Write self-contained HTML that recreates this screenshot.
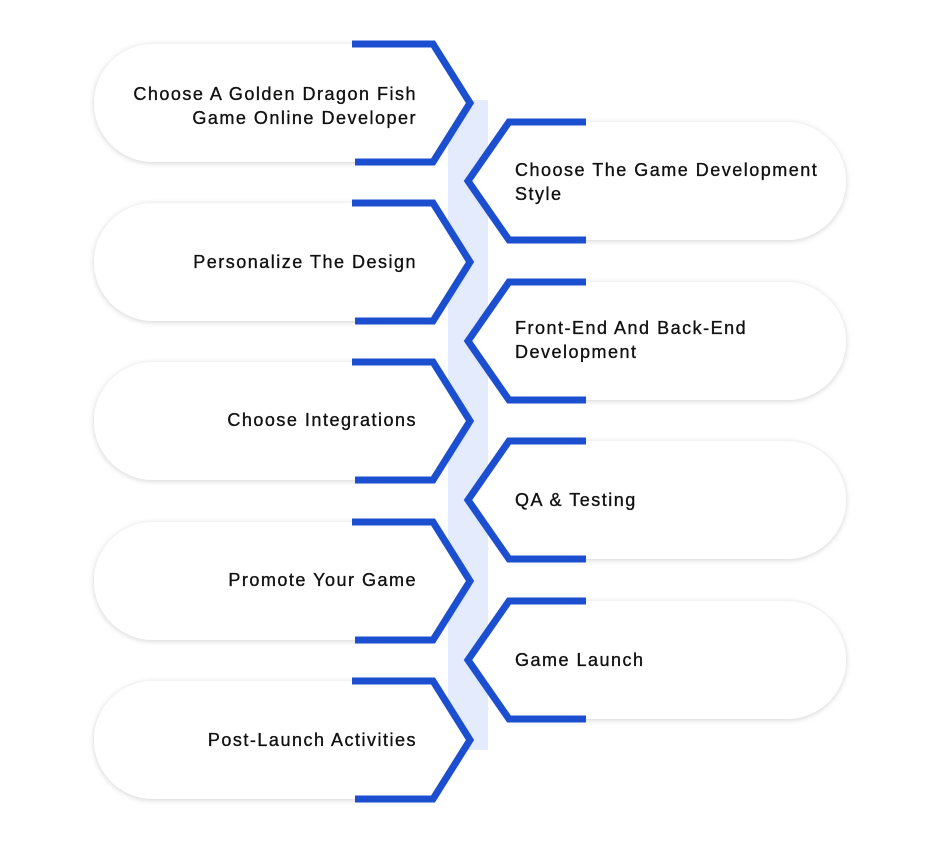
<!DOCTYPE html>
<html><head><meta charset="utf-8"><style>
html,body{margin:0;padding:0;background:#fff;}
body{width:947px;height:847px;overflow:hidden;position:relative;}
svg{position:absolute;left:0;top:0;}
.t{position:absolute;font-family:"Liberation Sans",sans-serif;font-size:18px;font-weight:normal;-webkit-text-stroke:0.35px #111;color:#111;line-height:24px;letter-spacing:1.5px;white-space:nowrap;}
.l{right:530px;text-align:right;}
.r{left:515px;text-align:left;}
</style></head><body>
<svg width="947" height="847" viewBox="0 0 947 847">
<defs>
<filter id="sh" x="-10%" y="-20%" width="120%" height="140%">
<feDropShadow dx="0" dy="1" stdDeviation="3" flood-color="#000" flood-opacity="0.18"/>
</filter>
</defs>
<rect x="448" y="100" width="40" height="650" fill="#e3ebfd"/>
<g id="shapes"></g>
</svg>
<div class="t l" style="top:82px">Choose A Golden Dragon Fish<br>Game Online Developer</div>
<div class="t l" style="top:250px">Personalize The Design</div>
<div class="t l" style="top:408px">Choose Integrations</div>
<div class="t l" style="top:568px">Promote Your Game</div>
<div class="t l" style="top:728px">Post-Launch Activities</div>
<div class="t r" style="top:158px">Choose The Game Development<br>Style</div>
<div class="t r" style="top:316px">Front-End And Back-End<br>Development</div>
<div class="t r" style="top:488px">QA &amp; Testing</div>
<div class="t r" style="top:648px">Game Launch</div>
<script>
var g=document.getElementById('shapes');var s='';
var L=[103,262,421,581,740],R=[181,341,500,660];
var items=[];
L.forEach(function(c){items.push(['L',c]);});R.forEach(function(c){items.push(['R',c]);});
items.sort(function(a,b){return a[1]-b[1];});
items.forEach(function(it){var c=it[1],t=c-59,b=c+59;
if(it[0]=='L'){
s+='<path d="M153,'+t+' L433,'+t+' L470,'+c+' L433,'+b+' L153,'+b+' A59 59 0 0 1 153,'+t+' Z" fill="#fff" filter="url(#sh)"/>';
s+='<polyline points="352,'+t+' 433,'+t+' 470,'+c+' 433,'+b+' 355,'+b+'" fill="none" stroke="#1c4fd0" stroke-width="7" stroke-linejoin="miter"/>';
}else{
s+='<path d="M509,'+t+' L787,'+t+' A59 59 0 0 1 787,'+b+' L509,'+b+' L468,'+c+' Z" fill="#fff" filter="url(#sh)"/>';
s+='<polyline points="586,'+t+' 509,'+t+' 468,'+c+' 509,'+b+' 586,'+b+'" fill="none" stroke="#1c4fd0" stroke-width="7"/>';
}});
g.innerHTML=s;
</script>
</body></html>
